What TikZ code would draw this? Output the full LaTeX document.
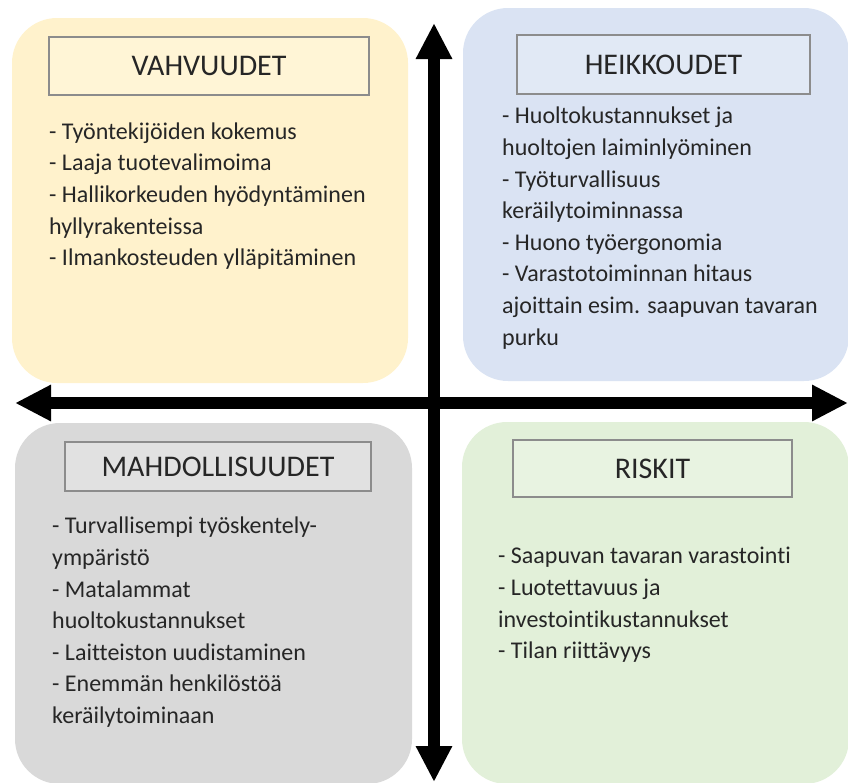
\documentclass[tikz,border=0pt]{standalone}
\usepackage{fontspec}
\setmainfont{Carlito}[Ligatures=CommonOff]
\usetikzlibrary{arrows.meta}
\definecolor{vahvuus}{HTML}{FFF2CC}
\definecolor{heikkous}{HTML}{DAE3F3}
\definecolor{mahdollisuus}{HTML}{D9D9D9}
\definecolor{riski}{HTML}{E2F0D9}
\tikzset{
	ruutu/.style={rounded corners=45pt, inner sep=0pt},
	otsikko/.style={draw=black!45, line width=1.6pt, inner sep=0pt, text=black!85, font=\fontsize{30}{36}\selectfont},
	lista/.style={anchor=north west, align=left, inner sep=0pt, text=black!85, font=\fontsize{24}{31.6}\selectfont},
	akseli/.style={line width=12pt, {Triangle[length=36pt,width=34pt]}-{Triangle[length=36pt,width=34pt]}}
}
\begin{document}
\begin{tikzpicture}[x=1pt,y=-1pt]
				\useasboundingbox (0,0) rectangle (848,782);
				\node[ruutu, fill=vahvuus, minimum width=396pt, minimum height=365pt] (vahvuudet) at (210,200.5) {};
				\node[ruutu, fill=heikkous, minimum width=386pt, minimum height=373pt] (heikkoudet) at (656,194.5) {};
				\node[ruutu, fill=mahdollisuus, minimum width=397pt, minimum height=361pt] (mahdollisuudet) at (213.5,603.5) {};
				\node[ruutu, fill=riski, minimum width=387pt, minimum height=362pt] (riskit) at (655.5,603) {};
				\coordinate (yla) at (434,23);
				\coordinate (ala) at (434,782);
				\coordinate (vasen) at (15,403);
				\coordinate (oikea) at (848,403);
				\draw[akseli] (ala) -- (yla);
				\draw[akseli] (vasen) -- (oikea);
				\node[otsikko, fill=vahvuus!80!white, minimum width=320pt, minimum height=58pt] (vahvuudetOtsikko) at (209,66) {VAHVUUDET};
				\node[otsikko, fill=heikkous!80!white, minimum width=293pt, minimum height=59pt] (heikkoudetOtsikko) at (663.5,64.5) {HEIKKOUDET};
				\node[otsikko, fill=mahdollisuus!80!white, minimum width=306pt, minimum height=49pt] (mahdollisuudetOtsikko) at (218,466.5) {MAHDOLLISUUDET};
				\node[otsikko, fill=riski!80!white, minimum width=279pt, minimum height=57pt] (riskitOtsikko) at (652.5,468.5) {RISKIT};
				\node[lista] (vahvuudetLista) at (49,117) {\strut- Työntekijöiden kokemus\\- Laaja tuotevalimoima\\- Hallikorkeuden hyödyntäminen\\hyllyrakenteissa\\- Ilmankosteuden ylläpitäminen};
				\node[lista] (heikkoudetLista) at (502,101.5) {\strut- Huoltokustannukset ja\\huoltojen laiminlyöminen\\- Työturvallisuus\\keräilytoiminnassa\\- Huono työergonomia\\- Varastotoiminnan hitaus\\ajoittain esim. saapuvan tavaran\\purku};
				\node[lista] (mahdollisuudetLista) at (52,511.5) {\strut- Turvallisempi työskentely-\\ympäristö\\- Matalammat\\huoltokustannukset\\- Laitteiston uudistaminen\\- Enemmän henkilöstöä\\keräilytoiminaan};
				\node[lista] (riskitLista) at (498,541.5) {\strut- Saapuvan tavaran varastointi\\- Luotettavuus ja\\investointikustannukset\\- Tilan riittävyys};
			\end{tikzpicture}
\end{document}
